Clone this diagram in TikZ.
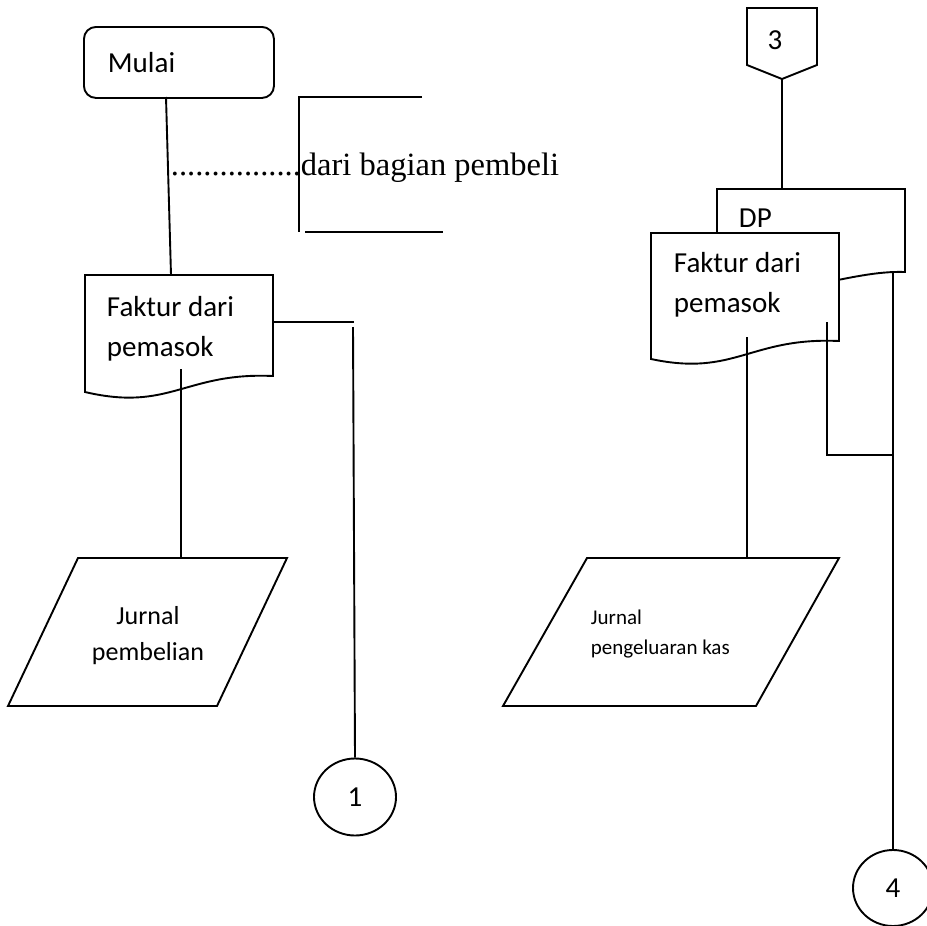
\documentclass[tikz,border=0pt]{standalone}
\usepackage{fontspec}
\setmainfont{Carlito}
\newfontfamily\serifnote{Liberation Serif}
\usetikzlibrary{shapes.geometric}

\begin{document}
\begin{tikzpicture}[x=1pt,y=-1pt,line width=1.9pt,
  shapeline/.style={draw=black,fill=white,line width=1.9pt,line join=miter},
  flowline/.style={draw=black,line width=1.9pt},
  bigtext/.style={font=\fontsize{29}{40}\selectfont,inner sep=0pt},
  midtext/.style={font=\fontsize{26}{36}\selectfont,inner sep=0pt},
  smalltext/.style={font=\fontsize{21}{30}\selectfont,inner sep=0pt},
  connector/.style={draw,ellipse,line width=1.9pt,inner sep=0pt,
    font=\fontsize{29}{34}\selectfont}]
\useasboundingbox (0,0) rectangle (926,926);

% ---------- left column ----------
\node[shapeline,rounded corners=12pt,minimum width=190pt,minimum height=71pt,
  anchor=north west,inner xsep=24pt,text width=142pt,align=left,
  font=\fontsize{29}{34}\selectfont] (mulai) at (83,26) {Mulai};

% source note with bracket
\node[font=\serifnote\fontsize{32.5}{38}\selectfont,inner sep=0pt,anchor=base west]
  (source) at (170,175) {................dari bagian pembeli};
\draw[flowline] (422,97) -- (299,97) -- (299,232);
\draw[flowline] (305,232) -- (443,232);

% document: Faktur dari pemasok
\draw[shapeline] (85,275) -- (273,275) -- (273,376)
  .. controls (185,372) and (170,412) .. (85,392) -- cycle;
\node[bigtext,anchor=west,align=left] (faktur1) at (106,329) {Faktur dari\\pemasok};

\coordinate (mulaiout) at (166,97);
\coordinate (fakturin) at (171,275);
\draw[flowline] (mulaiout) -- (fakturin);

% input/output: Jurnal pembelian
\draw[shapeline] (78,558) -- (287,558) -- (217,706) -- (8,706) -- cycle;
\node[midtext,align=center] (jurnal1) at (148,636) {Jurnal\\pembelian};

\coordinate (faktur1down) at (181,369);
\coordinate (jurnal1top) at (181,558);
\draw[flowline] (faktur1down) -- (jurnal1top);

% off-page connector 1
\node[connector,minimum width=82pt,minimum height=77pt] (c1) at (355,797) {1};
\coordinate (faktur1right) at (273,322);
\coordinate (c1bend) at (354,322);
\draw[flowline] (faktur1right) -- (c1bend);
\draw[flowline] (353,327) -- (c1.north);

% ---------- right column ----------
% off-page reference 3
\draw[shapeline] (747,8) -- (817,8) -- (817,65) -- (782,79) -- (747,65) -- cycle;
\node[bigtext] (p3) at (775,40) {3};
\coordinate (p3out) at (782,79);
\coordinate (dptop) at (782,189);
\draw[flowline] (p3out) -- (dptop);

% document DP (behind)
\draw[shapeline] (717,189) -- (905,189) -- (905,272)
  .. controls (850,270) and (790,300) .. (717,290) -- cycle;
\node[bigtext,anchor=west] (dp) at (738,218) {DP};

% document Faktur dari pemasok (front)
\draw[shapeline] (651,233) -- (839,233) -- (839,341)
  .. controls (750,337) and (735,377) .. (651,359) -- cycle;
\node[bigtext,anchor=west,align=left] (faktur2) at (673,285) {Faktur dari\\pemasok};

% input/output: Jurnal pengeluaran kas
\draw[shapeline] (587,558) -- (839,558) -- (756,706) -- (503,706) -- cycle;
\node[smalltext,anchor=west,align=left] (jurnal2) at (590,634) {Jurnal\\pengeluaran kas};

\coordinate (faktur2down) at (747,337);
\coordinate (jurnal2top) at (747,558);
\draw[flowline] (faktur2down) -- (jurnal2top);

% off-page connector 4
\node[connector,minimum width=80pt,minimum height=76pt] (c4) at (893,888) {4};
\coordinate (dpdown) at (893,272);
\coordinate (faktur2in) at (827,322);
\coordinate (joint) at (893,455);
\draw[flowline] (faktur2in) -- (827,455) -- (joint);
\draw[flowline] (dpdown) -- (c4.north);
\end{tikzpicture}
\end{document}
